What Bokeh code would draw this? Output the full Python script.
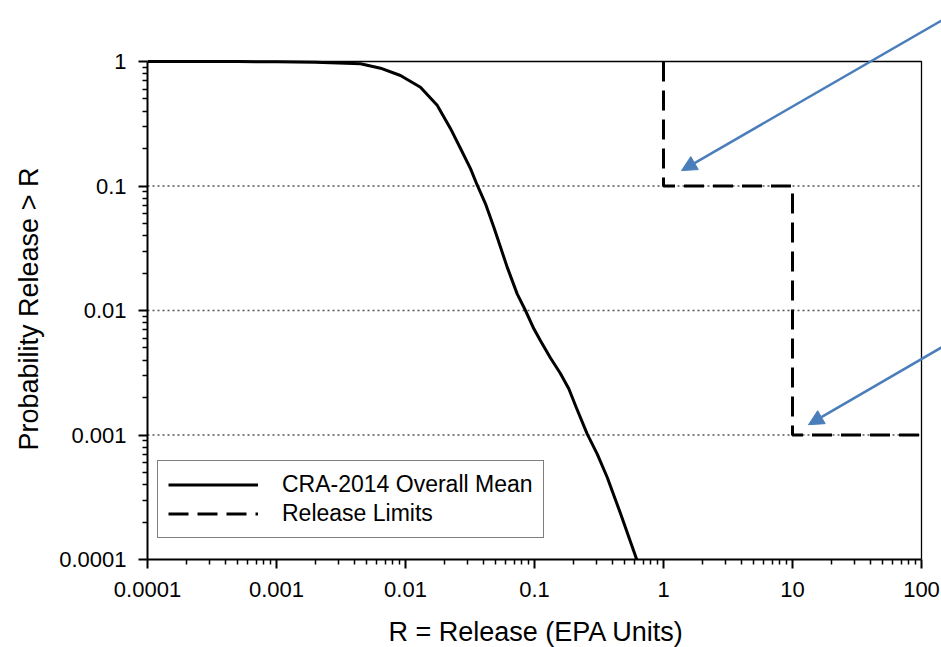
from bokeh.plotting import figure
from bokeh.models import (Range1d, FixedTicker, CustomJSTickFormatter, Legend,
                          LegendItem, Arrow, NormalHead, Title)
from bokeh.embed import file_html
from bokeh.resources import INLINE

# ---- data ----
curve_x = [0.0001, 0.0005, 0.001, 0.002, 0.00448, 0.0064, 0.00914, 0.01306, 0.0176,
           0.0223, 0.0267, 0.0319, 0.036, 0.0417, 0.0484, 0.0614, 0.0734, 0.0851,
           0.0989, 0.111, 0.133, 0.158, 0.1845, 0.21, 0.256, 0.306, 0.366, 0.465, 0.62]
curve_y = [1.0, 0.998, 0.995, 0.985, 0.958, 0.884, 0.772, 0.622, 0.446,
           0.290, 0.200, 0.138, 0.1015, 0.0719, 0.0467, 0.0223, 0.0136, 0.0100,
           0.00713, 0.00574, 0.00415, 0.00315, 0.00235, 0.00168, 0.00102, 0.000706,
           0.000458, 0.000233, 0.0001]

limit_x = [1, 1, 10, 10, 100]
limit_y = [1, 0.1, 0.1, 0.001, 0.001]

x_ticks = [0.0001, 0.001, 0.01, 0.1, 1, 10, 100]
x_labels = ["0.0001", "0.001", "0.01", "0.1", "1", "10", "100"]
y_ticks = [0.0001, 0.001, 0.01, 0.1, 1]
y_labels = ["0.0001", "0.001", "0.01", "0.1", "1"]
grid_y = [0.001, 0.01, 0.1]

# arrows: (start x, start y, tip x, tip y) in data units
arrow1 = (143, 2.13, 1.38, 0.133)
arrow2 = (143, 0.00505, 13.3, 0.00121)

x_title = "R = Release (EPA Units)"
y_title = "Probability Release > R"
legend_labels = ["CRA-2014 Overall Mean", "Release Limits"]

# ---- layout ----
FONT = "Liberation Sans"
W, H = 941, 647
LEFT, TOP_FRAME, BOTTOM_FRAME, RIGHT_FRAME = 147, 61, 559, 921   # plot box in px
px_dec_x = (RIGHT_FRAME - LEFT) / 6.0
px_dec_y = (BOTTOM_FRAME - TOP_FRAME) / 4.0
# the drawing area is extended right and up so the arrows can leave the box
x_end = x_ticks[-1] * 10 ** ((W - RIGHT_FRAME) / px_dec_x)
y_end = y_ticks[-1] * 10 ** (TOP_FRAME / px_dec_y)

p = figure(width=W, height=H, x_axis_type="log", y_axis_type="log",
           x_range=Range1d(x_ticks[0], x_end), y_range=Range1d(y_ticks[0], y_end),
           output_backend="svg", toolbar_location=None,
           min_border_left=LEFT, min_border_right=0, min_border_top=0,
           min_border_bottom=H - BOTTOM_FRAME)
p.background_fill_color = "white"
p.border_fill_color = "white"
p.outline_line_color = None

def minor_for(ticks):
    out = []
    for t in ticks[:-1]:
        for m in range(2, 10):
            out.append(t * m)
    return out

fmt_code = """
let best = 0, d = Infinity;
for (let i = 0; i < tvals.length; i++) {
  const e = Math.abs(Math.log10(tvals[i]) - Math.log10(tick));
  if (e < d) { d = e; best = i; }
}
return tlabels[best];
"""

p.xaxis.ticker = FixedTicker(ticks=x_ticks, minor_ticks=minor_for(x_ticks))
p.yaxis.ticker = FixedTicker(ticks=y_ticks, minor_ticks=minor_for(y_ticks))
p.xaxis.formatter = CustomJSTickFormatter(args=dict(tvals=x_ticks, tlabels=x_labels), code=fmt_code)
p.yaxis.formatter = CustomJSTickFormatter(args=dict(tvals=y_ticks, tlabels=y_labels), code=fmt_code)
p.xaxis.bounds = (x_ticks[0], x_ticks[-1])
p.yaxis.bounds = (y_ticks[0], y_ticks[-1])

for ax in (p.xaxis[0], p.yaxis[0]):
    ax.axis_line_width = 2
    ax.axis_line_color = "black"
    ax.major_tick_line_color = "black"
    ax.minor_tick_line_color = "black"
    ax.major_tick_line_width = 2
    ax.minor_tick_line_width = 1.5
    ax.major_tick_in = 0
    ax.minor_tick_in = 0
    ax.major_tick_out = 9
    ax.minor_tick_out = 5
    ax.major_label_text_font = FONT
    ax.major_label_text_font_size = "22px"
    ax.major_label_text_color = "black"

p.xaxis.major_label_standoff = 13
p.yaxis.major_label_standoff = 12

# axis titles placed along the plot box (not the extended drawing area)
p.add_layout(Title(text=y_title, align="left", offset=109, standoff=24,
                   text_font=FONT, text_font_size="27px", text_font_style="normal",
                   text_color="black", vertical_align="middle"), "left")
p.add_layout(Title(text=" ", standoff=0, text_font=FONT, text_font_size="12px"), "below")
p.add_layout(Title(text=x_title, align="left", offset=241, standoff=0,
                   text_font=FONT, text_font_size="27px", text_font_style="normal",
                   text_color="black", vertical_align="middle"), "below")

p.xgrid.visible = False
p.ygrid.visible = False

# dotted horizontal grid lines inside the plot box
p.segment(x0=[x_ticks[0]] * len(grid_y), y0=grid_y,
          x1=[x_ticks[-1]] * len(grid_y), y1=grid_y,
          line_color="#555555", line_width=1.3, line_dash="2 3")
# top and right edges of the plot box
p.line([x_ticks[0], x_ticks[-1], x_ticks[-1]], [y_ticks[-1], y_ticks[-1], y_ticks[0]],
       line_color="black", line_width=1.3)

r_curve = p.line(curve_x, curve_y, line_color="black", line_width=3)
r_limit = p.line(limit_x, limit_y, line_color="black", line_width=3, line_dash="20 9")

blue = "#4a7ebb"
for (xs, ys, xe, ye) in (arrow1, arrow2):
    p.add_layout(Arrow(x_start=xs, y_start=ys, x_end=xe, y_end=ye,
                       line_color=blue, line_width=2.5,
                       end=NormalHead(size=15, fill_color=blue, line_color=blue)))

legend = Legend(items=[LegendItem(label=legend_labels[0], renderers=[r_curve]),
                       LegendItem(label=legend_labels[1], renderers=[r_limit])],
                location=(10, 21), glyph_width=90, glyph_height=25, label_height=25,
                label_standoff=24, padding=10, spacing=2,
                label_text_font=FONT, label_text_font_size="23px",
                label_text_color="black",
                border_line_color="black", border_line_width=1.2,
                background_fill_color="white", background_fill_alpha=1.0,
                margin=0)
p.add_layout(legend, "center")

open("out.html", "w").write(file_html(p, INLINE))
